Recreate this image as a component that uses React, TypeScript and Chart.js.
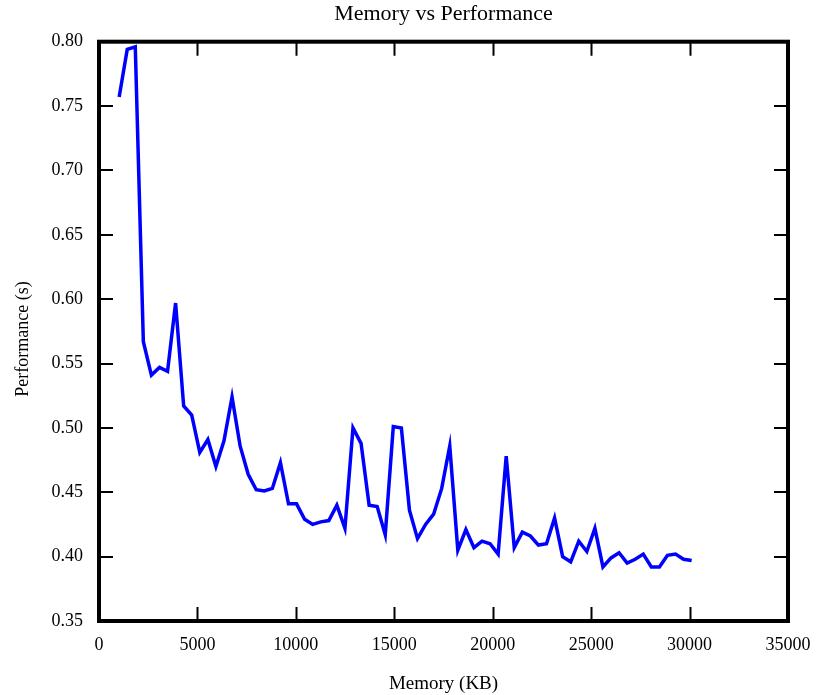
import React, { useEffect, useRef } from "react";
import { Chart, registerables } from "chart.js";

Chart.register(...registerables);

const chartTitle = "Memory vs Performance";
const xAxisTitle = "Memory (KB)";
const yAxisTitle = "Performance (s)";

const memoryKB: number[] = [
  1024, 1434, 1843, 2253, 2662, 3072, 3482, 3891, 4301, 4710, 5120, 5530,
  5939, 6349, 6758, 7168, 7578, 7987, 8397, 8806, 9216, 9626, 10035, 10445,
  10854, 11264, 11674, 12083, 12493, 12902, 13312, 13722, 14131, 14541, 14950,
  15360, 15770, 16179, 16589, 16998, 17408, 17818, 18227, 18637, 19046, 19456,
  19866, 20275, 20685, 21094, 21504, 21914, 22323, 22733, 23142, 23552, 23962,
  24371, 24781, 25190, 25600, 26010, 26419, 26829, 27238, 27648, 28058, 28467,
  28877, 29286, 29696, 30106,
];

const performanceS: number[] = [
  0.757, 0.794, 0.796, 0.567, 0.541, 0.547, 0.544, 0.597, 0.517, 0.51, 0.481,
  0.491, 0.47, 0.49, 0.524, 0.486, 0.464, 0.452, 0.451, 0.453, 0.473, 0.441,
  0.441, 0.429, 0.425, 0.427, 0.428, 0.44, 0.422, 0.5, 0.488, 0.44, 0.439,
  0.417, 0.501, 0.5, 0.436, 0.414, 0.425, 0.433, 0.453, 0.486, 0.405, 0.421,
  0.407, 0.412, 0.41, 0.402, 0.478, 0.407, 0.419, 0.416, 0.409, 0.41, 0.43,
  0.4, 0.396, 0.412, 0.404, 0.422, 0.392, 0.399, 0.403, 0.395, 0.398, 0.402,
  0.392, 0.392, 0.401, 0.402, 0.398, 0.397,
];

const xMin = 0;
const xMax = 35000;
const xStep = 5000;
const yMin = 0.35;
const yMax = 0.8;
const yStep = 0.05;

const FONT = '"Liberation Serif", "Times New Roman", Times, serif';

const frameTicksPlugin = {
  id: "frameTicks",
  afterDraw(chart: any) {
    const { ctx, chartArea } = chart;
    const { left, right, top, bottom } = chartArea;
    const xs = chart.scales.x;
    const ys = chart.scales.y;
    const tickLen = 14;
    ctx.save();
    ctx.strokeStyle = "#000";
    ctx.lineWidth = 2;
    ctx.beginPath();
    xs.ticks.forEach((t: any) => {
      const px = Math.round(xs.getPixelForValue(t.value)) + 0.5;
      if (px <= left + 2 || px >= right - 2) return;
      ctx.moveTo(px, bottom);
      ctx.lineTo(px, bottom - tickLen);
      ctx.moveTo(px, top);
      ctx.lineTo(px, top + tickLen);
    });
    ys.ticks.forEach((t: any) => {
      const py = Math.round(ys.getPixelForValue(t.value));
      if (py <= top + 2 || py >= bottom - 2) return;
      ctx.moveTo(left, py);
      ctx.lineTo(left + tickLen, py);
      ctx.moveTo(right, py);
      ctx.lineTo(right - tickLen, py);
    });
    ctx.stroke();
    ctx.lineWidth = 4;
    ctx.lineJoin = "miter";
    ctx.strokeRect(left, top, right - left, bottom - top);

    // y-axis title, rotated
    ctx.fillStyle = "#000";
    ctx.font = `18px ${FONT}`;
    ctx.textAlign = "center";
    ctx.textBaseline = "middle";
    ctx.translate(23, 339);
    ctx.rotate(-Math.PI / 2);
    ctx.fillText(yAxisTitle, 0, 0);
    ctx.restore();
  },
};

export default function App() {
  const canvasRef = useRef<HTMLCanvasElement | null>(null);

  useEffect(() => {
    const canvas = canvasRef.current;
    if (!canvas) return;
    const points = memoryKB.map((x, i) => ({ x, y: performanceS[i] }));
    const chart = new Chart(canvas, {
      type: "line",
      data: {
        datasets: [
          {
            label: "Performance",
            data: points,
            borderColor: "#0000ff",
            backgroundColor: "#0000ff",
            borderWidth: 3.5,
            pointRadius: 0,
            pointHoverRadius: 0,
            tension: 0,
            fill: false,
          },
        ],
      },
      options: {
        responsive: false,
        animation: false,
        devicePixelRatio: 1,
        layout: { padding: { left: 0, right: 41, top: 0, bottom: 0 } },
        plugins: {
          legend: { display: false },
          tooltip: { enabled: false },
          title: {
            display: true,
            text: chartTitle,
            fullSize: false,
            color: "#000",
            font: { family: FONT, size: 22, weight: "normal", lineHeight: 1.2 },
            padding: { top: 1, bottom: 14.3 },
          },
        },
        scales: {
          x: {
            type: "linear",
            min: xMin,
            max: xMax,
            grid: { display: false, drawTicks: false },
            border: { display: false },
            ticks: {
              stepSize: xStep,
              color: "#000",
              padding: 13,
              maxRotation: 0,
              font: { family: FONT, size: 18 },
              callback: (v: any) => String(v),
            },
            title: {
              display: true,
              text: xAxisTitle,
              color: "#000",
              font: { family: FONT, size: 19 },
              padding: { top: 0, bottom: 0 },
            },
            afterFit: (scale: any) => {
              scale.height = 74;
            },
          },
          y: {
            type: "linear",
            min: yMin,
            max: yMax,
            grid: { display: false, drawTicks: false },
            border: { display: false },
            ticks: {
              stepSize: yStep,
              color: "#000",
              padding: 16,
              font: { family: FONT, size: 18 },
              callback: (v: any) => Number(v).toFixed(2),
            },
            title: { display: false },
            afterFit: (scale: any) => {
              scale.width = 99;
            },
          },
        },
      },
      plugins: [frameTicksPlugin],
    });
    return () => chart.destroy();
  }, []);

  return (
    <div
      style={{
        position: "fixed",
        left: 0,
        top: 0,
        width: 829,
        height: 695,
        background: "#fff",
      }}
    >
      <canvas ref={canvasRef} width={829} height={695} />
    </div>
  );
}
